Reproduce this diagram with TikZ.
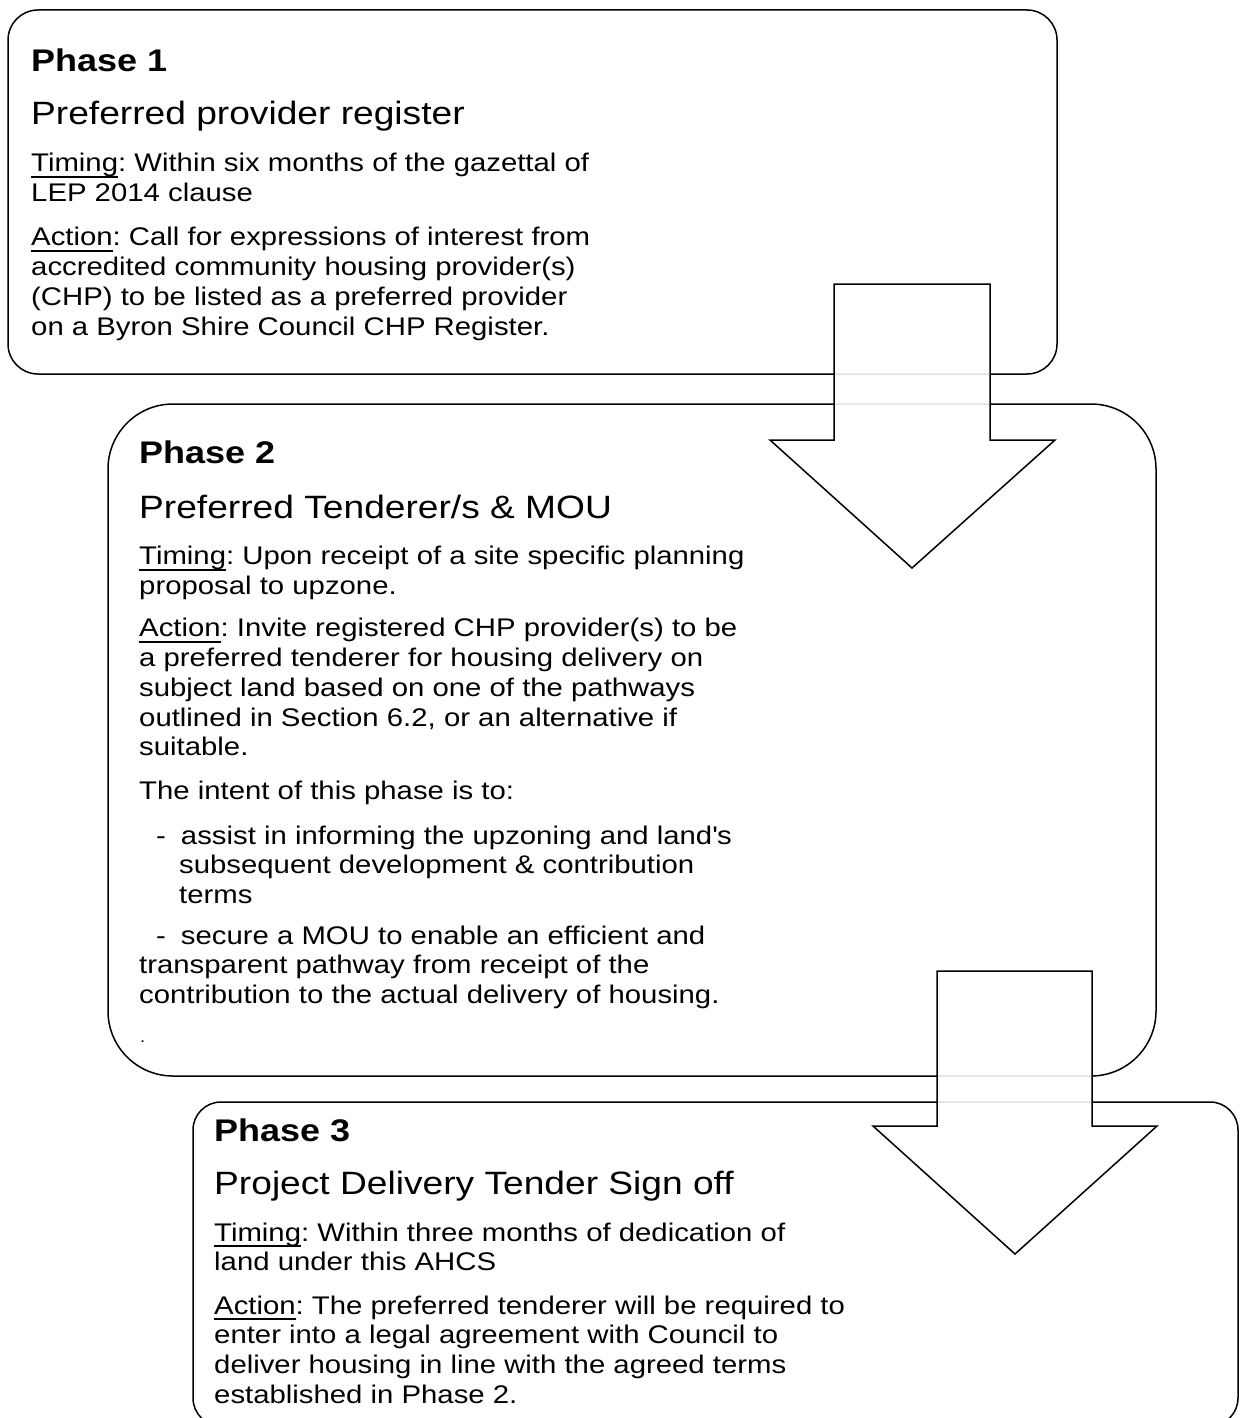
\documentclass[tikz,border=0pt]{standalone}
\usepackage{fontspec}
\setmainfont{Liberation Sans}[FakeStretch=1.15]
\usetikzlibrary{positioning}
\newcommand{\phaseul}[1]{\setbox0\hbox{#1}\rlap{\rule[-5.6pt]{\wd0}{1.7pt}}#1}
\tikzset{
  phasebox/.style={draw=black,line width=1.5pt,fill=white},
  phasehead/.style={anchor=north west,inner sep=0pt,font=\fontsize{31.3}{36}\selectfont\bfseries},
  phasetitle/.style={anchor=north west,inner sep=0pt,font=\fontsize{32.3}{36}\selectfont},
  phasebody/.style={anchor=north west,inner sep=0pt,align=left,font=\fontsize{25.5}{29.7}\selectfont\frenchspacing},
  downarrow/.style={draw=black,line width=1.5pt,fill=white,fill opacity=0.88}
}
\begin{document}
\begin{tikzpicture}[x=1pt,y=-1pt]
  \useasboundingbox (0,0) rectangle (1239,1418);
  % the three phase boxes
  \draw[phasebox,rounded corners=30pt] (8,10) rectangle (1057,374);
  \draw[phasebox,rounded corners=65pt] (108,404) rectangle (1156,1076);
  \draw[phasebox,rounded corners=28pt] (193,1102) rectangle (1238,1426);
  % phase 1
  \node[phasehead] (p1head) at (31,46) {\strut Phase 1};
  \node[phasetitle] (p1title) at (31,99) {\strut Preferred provider register};
  \node[phasebody] (p1timing) at (31,151)
    {\strut\phaseul{Timing}: Within six months of the gazettal of\\LEP 2014 clause};
  \node[phasebody] (p1action) at (31,225)
    {\strut\phaseul{Action}: Call for expressions of interest from\\accredited community housing provider(s)\\(CHP) to be listed as a preferred provider\\on a Byron Shire Council CHP Register.};
  % phase 2
  \node[phasehead] (p2head) at (139,438) {\strut Phase 2};
  \node[phasetitle] (p2title) at (139,493) {\strut Preferred Tenderer/s \& MOU};
  \node[phasebody] (p2timing) at (139,544)
    {\strut\phaseul{Timing}: Upon receipt of a site specific planning\\proposal to upzone.};
  \node[phasebody] (p2action) at (139,616)
    {\strut\phaseul{Action}: Invite registered CHP provider(s) to be\\a preferred tenderer for housing delivery on\\subject land based on one of the pathways\\outlined in Section 6.2, or an alternative if\\suitable.};
  \node[phasebody] (p2intent) at (139,779) {\strut The intent of this phase is to:};
  \node[phasebody] (p2itema) at (139,823)
    {\strut\hspace{17pt}-\hspace{15pt}assist in informing the upzoning and land\textquotesingle s\\\hspace{40pt}subsequent development \& contribution\\\hspace{40pt}terms};
  \node[phasebody] (p2itemb) at (139,923)
    {\strut\hspace{17pt}-\hspace{15pt}secure a MOU to enable an efficient and\\transparent pathway from receipt of the\\contribution to the actual delivery of housing.};
  \node[anchor=base west,inner sep=0pt,font=\fontsize{16}{18}\selectfont] (p2dot) at (140,1042) {.};
  % phase 3
  \node[phasehead] (p3head) at (214,1116) {\strut Phase 3};
  \node[phasetitle] (p3title) at (214,1169) {\strut Project Delivery Tender Sign off};
  \node[phasebody] (p3timing) at (214,1220)
    {\strut\phaseul{Timing}: Within three months of dedication of\\land under this AHCS};
  \node[phasebody] (p3action) at (214,1293)
    {\strut\phaseul{Action}: The preferred tenderer will be required to\\enter into a legal agreement with Council to\\deliver housing in line with the agreed terms\\established in Phase 2.};
  % block arrows between phases
  \draw[downarrow] (834,284) -- (990,284) -- (990,440) -- (1055,440)
    -- (912,568) -- (770,440) -- (834,440) -- cycle;
  \draw[downarrow] (937,971) -- (1092,971) -- (1092,1126) -- (1157,1126)
    -- (1015,1254) -- (873,1126) -- (937,1126) -- cycle;
\end{tikzpicture}
\end{document}
